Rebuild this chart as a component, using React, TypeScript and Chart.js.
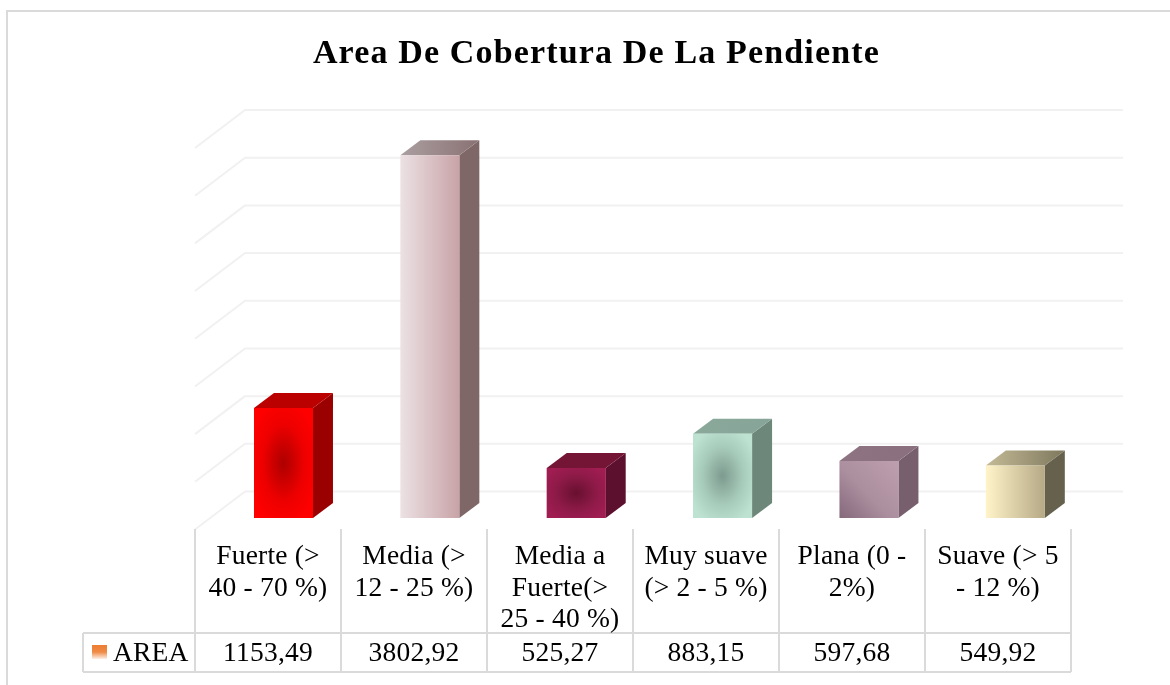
import React, { useEffect, useRef } from "react";
import { Chart, registerables } from "chart.js";

Chart.register(...registerables);

const chartTitle = "Area De Cobertura De La Pendiente";
const seriesName = "AREA";
const categories = [
  ["Fuerte (>", "40 - 70 %)"],
  ["Media (>", "12 - 25 %)"],
  ["Media a", "Fuerte(>", "25 - 40 %)"],
  ["Muy suave", "(> 2 - 5 %)"],
  ["Plana (0 -", "2%)"],
  ["Suave (> 5", "- 12 %)"],
];
const areaValues = [1153.49, 3802.92, 525.27, 883.15, 597.68, 549.92];
const axisMax = 4000;
const axisStep = 500;

type Paint =
  | { kind: "radial"; center: string; mid: string; edge: string }
  | { kind: "horizontal"; from: string; to: string }
  | { kind: "diagonal"; from: string; to: string };

const frontPaints: Paint[] = [
  { kind: "radial", center: "#ad0000", mid: "#ee0000", edge: "#ff0000" },
  { kind: "horizontal", from: "#ece1e4", to: "#c8a3a7" },
  { kind: "radial", center: "#68102f", mid: "#8e1a48", edge: "#a01d52" },
  { kind: "radial", center: "#7d9b8f", mid: "#a8ccbb", edge: "#bde2d1" },
  { kind: "diagonal", from: "#84697b", to: "#bd9fb0" },
  { kind: "horizontal", from: "#fff4c9", to: "#b6a986" },
];
const topPaints = [
  ["#bb0000", "#bb0000"],
  ["#ab9fa1", "#8a7173"],
  ["#741535", "#741535"],
  ["#8aa99b", "#86a497"],
  ["#8e7383", "#8a6f7f"],
  ["#c4ba96", "#7e785d"],
];
const sidePaints = ["#9b0000", "#7f6667", "#5c102e", "#6e877b", "#775f6e", "#65614c"];

const GRID_COLOR = "#f1f1f1";
const TABLE_COLOR = "#dadada";
const FONT = '"Liberation Serif"';
const DEPTH_X = 20;
const DEPTH_Y = 15;
const WALL_X = 245;
const FLOOR_X = 195;
const WALL_RIGHT = 1123;
const WALL_UP = 26.5;
const FLOOR_DOWN = 11.5;
const TABLE_LEFT = 195;
const CELL_W = 146;
const KEY_LEFT = 83;
const TABLE_TOP = 529;
const ROW_TOP = 633;
const TABLE_BOTTOM = 672;

function hline(ctx: CanvasRenderingContext2D, x1: number, y1: number, x2: number, y2: number) {
  ctx.beginPath();
  ctx.moveTo(x1, y1);
  ctx.lineTo(x2, y2);
  ctx.stroke();
}

const decor = {
  id: "decor",
  beforeDraw(chart: any) {
    const ctx = chart.ctx as CanvasRenderingContext2D;
    ctx.save();
    ctx.fillStyle = "#ffffff";
    ctx.fillRect(0, 0, chart.width, chart.height);
    ctx.strokeStyle = TABLE_COLOR;
    ctx.lineWidth = 2;
    ctx.beginPath();
    ctx.moveTo(7, chart.height);
    ctx.lineTo(7, 11);
    ctx.lineTo(chart.width, 11);
    ctx.stroke();
    ctx.restore();
    (ctx as any).letterSpacing = "1.15px";
  },
  beforeDatasetsDraw(chart: any) {
    const ctx = chart.ctx as CanvasRenderingContext2D;
    (ctx as any).letterSpacing = "0px";
    const y = chart.scales.y;
    ctx.save();
    ctx.strokeStyle = GRID_COLOR;
    ctx.lineWidth = 2;
    ctx.lineJoin = "round";
    y.ticks.forEach((t: any) => {
      const py = y.getPixelForValue(t.value);
      ctx.beginPath();
      ctx.moveTo(FLOOR_X, py + FLOOR_DOWN);
      ctx.lineTo(WALL_X, py - WALL_UP);
      ctx.lineTo(WALL_RIGHT, py - WALL_UP);
      ctx.stroke();
    });
    // 3D side and top faces of each bar
    chart.getDatasetMeta(0).data.forEach((bar: any, i: number) => {
      const { x, y: top, width, base } = bar.getProps(["x", "y", "width", "base"], true);
      const l = x - width / 2;
      const r = x + width / 2;
      ctx.fillStyle = sidePaints[i];
      ctx.beginPath();
      ctx.moveTo(r, top);
      ctx.lineTo(r + DEPTH_X, top - DEPTH_Y);
      ctx.lineTo(r + DEPTH_X, base - DEPTH_Y);
      ctx.lineTo(r, base);
      ctx.closePath();
      ctx.fill();
      const g = ctx.createLinearGradient(l, 0, r + DEPTH_X, 0);
      g.addColorStop(0, topPaints[i][0]);
      g.addColorStop(1, topPaints[i][1]);
      ctx.fillStyle = g;
      ctx.beginPath();
      ctx.moveTo(l, top);
      ctx.lineTo(l + DEPTH_X, top - DEPTH_Y);
      ctx.lineTo(r + DEPTH_X, top - DEPTH_Y);
      ctx.lineTo(r, top);
      ctx.closePath();
      ctx.fill();
    });
    ctx.restore();
  },
  afterDatasetsDraw(chart: any) {
    const ctx = chart.ctx as CanvasRenderingContext2D;
    // elliptical radial shading for the path-gradient bars
    chart.getDatasetMeta(0).data.forEach((bar: any, i: number) => {
      const p = frontPaints[i];
      if (p.kind !== "radial") return;
      const { x, y: top, width, base } = bar.getProps(["x", "y", "width", "base"], true);
      const h = base - top;
      ctx.save();
      ctx.beginPath();
      ctx.rect(x - width / 2, top, width, h);
      ctx.clip();
      ctx.translate(x, top + h / 2);
      ctx.scale(width / 2, h / 2);
      const g = ctx.createRadialGradient(0, 0, 0, 0, 0, 1.414);
      g.addColorStop(0, p.center);
      g.addColorStop(0.5, p.mid);
      g.addColorStop(0.85, p.edge);
      ctx.fillStyle = g;
      ctx.fillRect(-1, -1, 2, 2);
      ctx.restore();
    });
    // data table under the plot
    ctx.save();
    ctx.strokeStyle = TABLE_COLOR;
    ctx.lineWidth = 2;
    const right = TABLE_LEFT + CELL_W * categories.length;
    for (let i = 0; i <= categories.length; i++) {
      const cx = TABLE_LEFT + i * CELL_W;
      hline(ctx, cx, TABLE_TOP, cx, TABLE_BOTTOM);
    }
    hline(ctx, KEY_LEFT, ROW_TOP, right, ROW_TOP);
    hline(ctx, KEY_LEFT, TABLE_BOTTOM, right, TABLE_BOTTOM);
    hline(ctx, KEY_LEFT, ROW_TOP, KEY_LEFT, TABLE_BOTTOM);
    ctx.fillStyle = "#000000";
    ctx.font = `27.5px ${FONT}`;
    (ctx as any).letterSpacing = "0.2px";
    ctx.textBaseline = "alphabetic";
    ctx.textAlign = "center";
    categories.forEach((lines, i) => {
      const cx = TABLE_LEFT + (i + 0.5) * CELL_W;
      lines.forEach((line, j) => ctx.fillText(line, cx, 564 + j * 31.7));
      ctx.fillText(areaValues[i].toFixed(2).replace(".", ","), cx, 661);
    });
    ctx.textAlign = "left";
    ctx.fillText(seriesName, 113, 661);
    (ctx as any).letterSpacing = "0px";
    const kg = ctx.createLinearGradient(0, 645, 0, 659);
    kg.addColorStop(0, "#ed7d31");
    kg.addColorStop(0.5, "#ef8a45");
    kg.addColorStop(1, "#fdf0e8");
    ctx.fillStyle = kg;
    ctx.fillRect(92, 645, 15, 14);
    ctx.restore();
  },
};

export default function App() {
  const ref = useRef<HTMLCanvasElement>(null);
  useEffect(() => {
    const chart = new Chart(ref.current!, {
      type: "bar",
      plugins: [decor],
      data: {
        labels: categories,
        datasets: [
          {
            label: seriesName,
            data: areaValues,
            barPercentage: 59 / 146.4,
            categoryPercentage: 1,
            borderWidth: 0,
            backgroundColor: (c: any) => {
              const p = frontPaints[c.dataIndex];
              if (!p) return "#000";
              if (p.kind === "radial") return p.edge;
              const { x, y } = c.chart.scales;
              const half = 29.5;
              const cx = x.getPixelForValue(c.dataIndex);
              const g =
                p.kind === "horizontal"
                  ? c.chart.ctx.createLinearGradient(cx - half, 0, cx + half, 0)
                  : c.chart.ctx.createLinearGradient(
                      cx - half,
                      y.getPixelForValue(0),
                      cx + half,
                      y.getPixelForValue(areaValues[c.dataIndex])
                    );
              g.addColorStop(0, p.from);
              if (p.kind === "diagonal") g.addColorStop(0.45, "#ac8f9f");
              g.addColorStop(1, p.to);
              return g;
            },
          },
        ],
      },
      options: {
        responsive: false,
        animation: false,
        layout: { padding: { left: 104.3, right: 81.5, top: 0, bottom: 167 } },
        plugins: {
          legend: { display: false },
          tooltip: { enabled: false },
          title: {
            display: true,
            text: chartTitle,
            color: "#000000",
            font: { family: FONT, size: 34, weight: "bold", lineHeight: 1.2 },
            padding: { top: 34, bottom: 61.7 },
          },
        },
        scales: {
          x: { display: false },
          y: {
            min: 0,
            max: axisMax,
            ticks: { stepSize: axisStep, display: false },
            grid: { display: false },
            border: { display: false },
            afterFit: (s: any) => {
              s.width = 106;
            },
          },
        },
      },
    } as any);
    return () => chart.destroy();
  }, []);
  return (
    <div style={{ position: "fixed", left: 0, top: 0, width: 1170, height: 685 }}>
      <canvas ref={ref} width={1170} height={685} style={{ display: "block" }} />
    </div>
  );
}
